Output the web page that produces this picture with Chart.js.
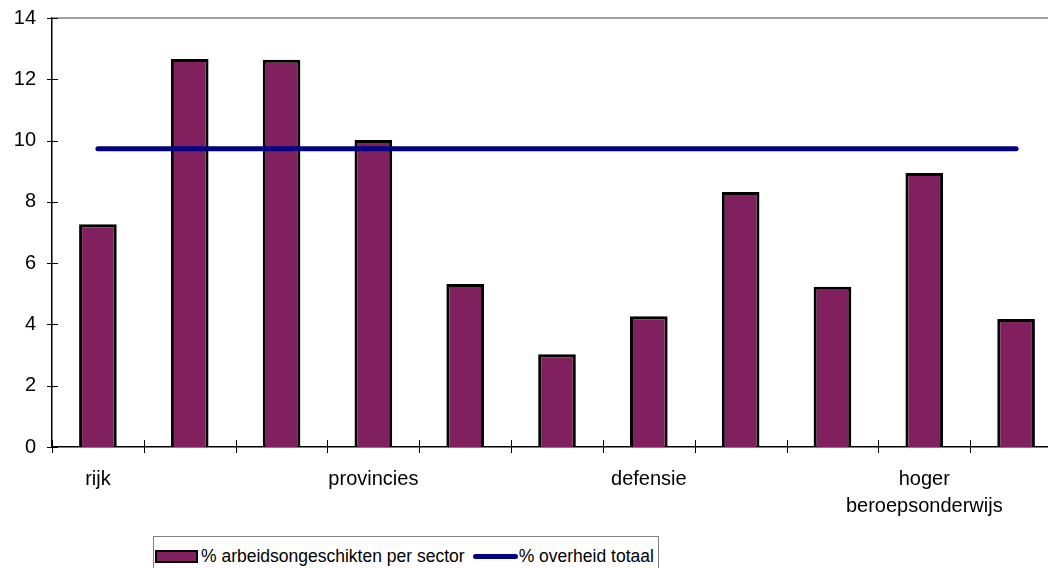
<!DOCTYPE html>
<html>
<head>
<meta charset="utf-8">
<script src="https://cdn.jsdelivr.net/npm/chart.js@4/dist/chart.umd.min.js"></script>
<style>
  html, body { margin: 0; padding: 0; background: #fff; overflow: hidden; }
  #wrap { position: absolute; left: 0; top: 0; width: 1064px; height: 568px; }
  #legend {
    position: absolute; left: 153px; top: 536px; width: 506px; height: 40px;
    border: 1px solid #808080; background: #fff;
    font-family: Arial, "Liberation Sans", sans-serif; font-size: 17.5px; color: #000;
    display: flex; align-items: flex-start; padding-top: 7px; box-sizing: border-box;
    white-space: nowrap; line-height: 24px;
  }
  .item { display: flex; align-items: center; }
  .swatch-bar { width: 39px; height: 9px; border: 2px solid #000; margin: 0 3px 0 1px; }
  .swatch-line { width: 45px; height: 5px; border-radius: 3px; margin: 0 1px 0 8px; }
</style>
</head>
<body>
<div id="wrap">
  <canvas id="chart" width="1064" height="568"></canvas>
  <div id="legend"></div>
</div>
<script>
document.addEventListener('DOMContentLoaded', () => {
    // ─── Data ───────────────────────────────
    const sectors      = ['rijk', '', '', 'provincies', '', '', 'defensie', '', '', ['hoger', 'beroepsonderwijs'], ''];
    const aoPerSector  = [7.27, 12.66, 12.64, 10.02, 5.32, 3.03, 4.27, 8.32, 5.23, 8.94, 4.18];
    const overheidTot  = [9.73, 9.73, 9.73, 9.73, 9.73, 9.73, 9.73, 9.73, 9.73, 9.73, 9.73];
    const yTicks       = [0, 2, 4, 6, 8, 10, 12, 14];

    const PLUM = '#80205f';
    const NAVY = '#000080';
    const FONT = 'Arial, "Liberation Sans", sans-serif';

    // tick marks crossing the axes + grey frame line on top
    const axisMarks = {
        id: 'axisMarks',
        beforeDatasetsDraw(chart) {
            const { ctx, chartArea, scales: { x, y } } = chart;
            ctx.save();
            ctx.strokeStyle = '#a0a0a0';
            ctx.lineWidth = 2;
            ctx.beginPath();
            ctx.moveTo(chartArea.left, chartArea.top);
            ctx.lineTo(chartArea.right, chartArea.top);
            ctx.stroke();

            ctx.strokeStyle = '#000';
            ctx.lineWidth = 1;
            ctx.beginPath();
            y.ticks.forEach((t, i) => {
                const py = Math.round(y.getPixelForTick(i)) + 0.5;
                ctx.moveTo(chartArea.left - 5, py);
                ctx.lineTo(chartArea.left + 6, py);
            });
            for (let i = 0; i <= sectors.length; i++) {
                const px = Math.round(x.getPixelForValue(i - 0.5)) + 0.5;
                ctx.moveTo(px, chartArea.bottom - 7);
                ctx.lineTo(px, chartArea.bottom + 6);
            }
            ctx.stroke();
            ctx.restore();
        }
    };

    const chart = new Chart(document.getElementById('chart').getContext('2d'), {
        data: {
            labels: sectors,
            datasets: [
                {
                    type: 'bar',
                    label: '% arbeidsongeschikten per sector',
                    data: aoPerSector,
                    backgroundColor: PLUM,
                    borderColor: '#000',
                    borderWidth: 3,
                    barPercentage: 0.41,
                    categoryPercentage: 1,
                    order: 2
                },
                {
                    type: 'line',
                    label: '% overheid totaal',
                    data: overheidTot,
                    borderColor: NAVY,
                    borderWidth: 5,
                    borderCapStyle: 'round',
                    pointRadius: 0,
                    fill: false,
                    order: 1
                }
            ]
        },
        options: {
            responsive: false,
            animation: false,
            devicePixelRatio: 1,
            layout: { padding: { left: 0, right: 2, top: 18, bottom: 0 } },
            plugins: { legend: { display: false }, tooltip: { enabled: false } },
            scales: {
                x: {
                    offset: true,
                    grid: { display: false, drawTicks: false },
                    border: { display: true, color: '#000', width: 1.5 },
                    ticks: {
                        autoSkip: false, maxRotation: 0, padding: 19,
                        color: '#000', font: { family: FONT, size: 20, lineHeight: 1.35 }
                    },
                    afterFit(scale) { scale.height = 121; }
                },
                y: {
                    min: 0, max: 14,
                    afterBuildTicks(scale) { scale.ticks = yTicks.map(v => ({ value: v })); },
                    grid: { display: false, drawTicks: false },
                    border: { display: true, color: '#000', width: 1.5 },
                    ticks: { padding: 16, color: '#000', font: { family: FONT, size: 20 } },
                    afterFit(scale) { scale.width = 52; scale.paddingTop = 0; scale.paddingBottom = 0; }
                }
            }
        },
        plugins: [axisMarks]
    });

    // ─── Legend (HTML) ──────────────────────
    const legend = document.getElementById('legend');
    chart.data.datasets.forEach(ds => {
        const item = document.createElement('div');
        item.className = 'item';
        const sw = document.createElement('span');
        if (ds.type === 'bar') {
            sw.className = 'swatch-bar';
            sw.style.background = ds.backgroundColor;
        } else {
            sw.className = 'swatch-line';
            sw.style.background = ds.borderColor;
        }
        const txt = document.createElement('span');
        txt.textContent = ds.label;
        item.appendChild(sw);
        item.appendChild(txt);
        legend.appendChild(item);
    });
});
</script>
</body>
</html>
